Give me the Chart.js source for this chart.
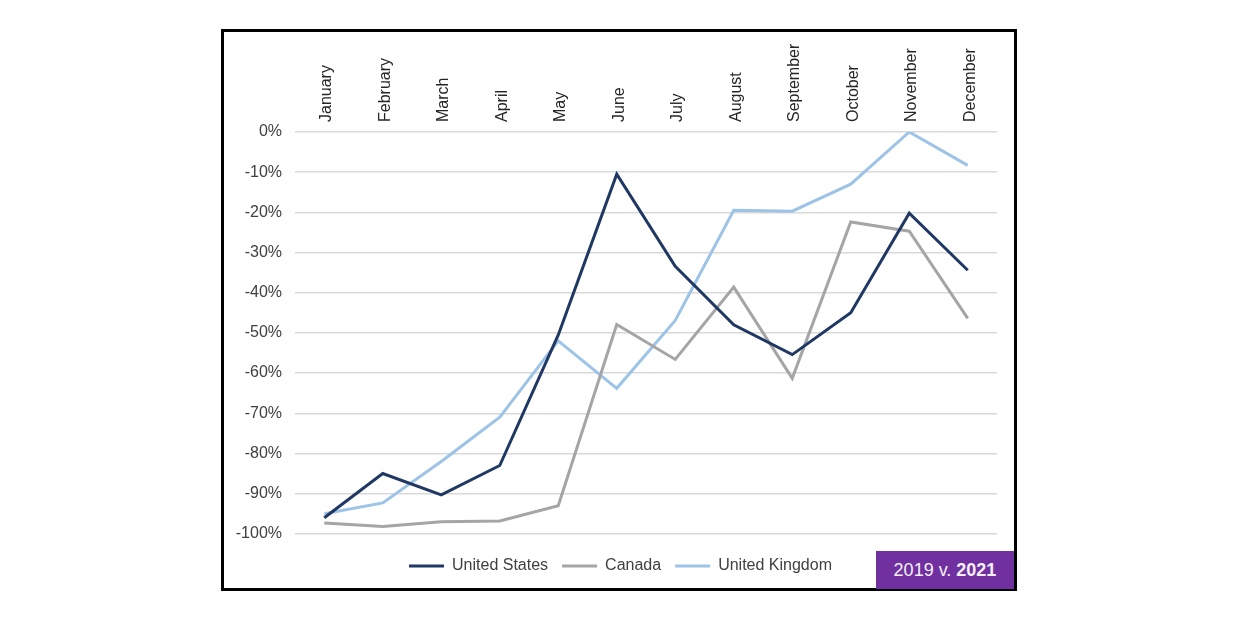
<!DOCTYPE html>
<html>
<head>
<meta charset="utf-8">
<script src="https://cdn.jsdelivr.net/npm/chart.js@4"></script>
<style>
  html, body { margin: 0; padding: 0; background: #fff; }
  #wrap { position: relative; width: 1240px; height: 619px; }
  #frame {
    position: absolute; left: 221px; top: 29px; width: 790px; height: 556px;
    border: 3px solid #000; pointer-events: none;
  }
  #badge {
    position: absolute; left: 876px; top: 551px; width: 138px; height: 38px;
    background: #7030a0; color: #f4f0f6; font-family: "Liberation Sans", Arial, sans-serif;
    font-size: 18px; line-height: 38px; text-align: center;
  }
  #badge b { font-weight: bold; }
</style>
</head>
<body>
<div id="wrap">
  <canvas id="lineChart" width="1240" height="619"></canvas>
  <div id="frame"></div>
  <div id="badge">2019 v. <b>2021</b></div>
</div>
<script>
// Chart data
const months = ['January', 'February', 'March', 'April', 'May', 'June',
  'July', 'August', 'September', 'October', 'November', 'December'];
const unitedStates = [-96, -85, -90.3, -83, -50.5, -10.5, -33.4, -48, -55.4, -45, -20.2, -34.4];
const canada = [-97.3, -98.2, -97, -96.8, -93, -47.9, -56.6, -38.6, -61.3, -22.4, -24.7, -46.4];
const unitedKingdom = [-95, -92.3, -82, -71, -52, -63.8, -46.9, -19.5, -19.7, -13, 0, -8.3];
const yTicks = [0, -10, -20, -30, -40, -50, -60, -70, -80, -90, -100];

const fontFamily = '"Liberation Sans", Arial, sans-serif';
const textColor = '#404040';

function makeDataset(label, data, color) {
  return {
    label: label,
    data: data,
    borderColor: color,
    backgroundColor: color,
    borderWidth: 3,
    pointRadius: 0,
    pointHoverRadius: 0,
    tension: 0,
    fill: false
  };
}

// Nudge the legend so it sits centred under the whole frame, not just the plot
const legendShift = {
  id: 'legendShift',
  afterLayout(chart) {
    if (chart.legend) {
      chart.legend.left += 9;
      chart.legend.right += 9;
    }
  }
};

const ctx = document.getElementById('lineChart').getContext('2d');

const lineChart = new Chart(ctx, {
  type: 'line',
  data: {
    labels: months,
    datasets: [
      makeDataset('United States', unitedStates, '#203864'),
      makeDataset('Canada', canada, '#a5a5a5'),
      makeDataset('United Kingdom', unitedKingdom, '#9dc3e6')
    ]
  },
  plugins: [legendShift],
  options: {
    responsive: false,
    animation: false,
    layout: {
      padding: { left: 226, right: 243, top: 34, bottom: 35 }
    },
    scales: {
      x: {
        position: 'top',
        offset: true,
        grid: { display: false },
        border: { display: false },
        ticks: {
          minRotation: 90,
          maxRotation: 90,
          padding: 2,
          labelOffset: 22,
          color: '#262626',
          font: { family: fontFamily, size: 16 }
        },
        afterFit: function(scale) { scale.height = 98; }
      },
      y: {
        min: -100,
        max: 0,
        afterBuildTicks: function(scale) {
          scale.ticks = yTicks.map(v => ({ value: v }));
        },
        grid: { color: '#d9d9d9', lineWidth: 1.5, drawTicks: false },
        border: { display: false },
        ticks: {
          padding: 13,
          color: textColor,
          font: { family: fontFamily, size: 16 },
          callback: function(value) { return value + '%'; }
        },
        afterFit: function(scale) { scale.width = 69; }
      }
    },
    plugins: {
      tooltip: { enabled: false },
      legend: {
        position: 'bottom',
        title: {
          display: true,
          text: ' ',
          font: { size: 1 },
          padding: { top: 0, bottom: 9 }
        },
        labels: {
          usePointStyle: true,
          pointStyle: 'line',
          pointStyleWidth: 35,
          boxHeight: 16,
          padding: 14,
          color: textColor,
          font: { family: fontFamily, size: 16 }
        }
      }
    }
  }
});
</script>
</body>
</html>
